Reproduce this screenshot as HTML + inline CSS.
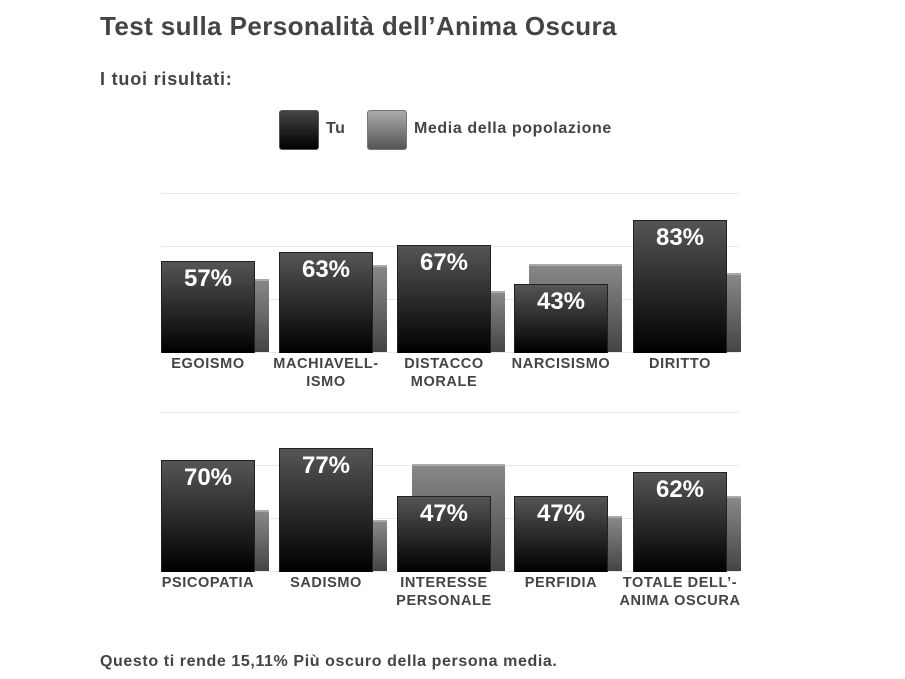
<!DOCTYPE html>
<html><head><meta charset="utf-8"><style>
body{margin:0;width:905px;height:679px;background:#fff;position:relative;overflow:hidden;font-family:"Liberation Sans",sans-serif;font-weight:bold;color:#444}
.a{position:absolute;white-space:nowrap}
.g{position:absolute;left:161px;width:578px;height:1px;background:#e8e8e8}
.tu{position:absolute;width:92px;border:1px solid #222;border-bottom:none;background:linear-gradient(#555,#000);box-sizing:content-box}
.tu span{display:block;text-align:center;color:#fff;font-size:24px;margin-top:3px}
.po{position:absolute;width:93px;border-top:2px solid #aaa;background:linear-gradient(#888,#444)}
.lb{position:absolute;width:130px;text-align:center;font-size:14.5px;letter-spacing:0.6px;line-height:18px;color:#444}
</style></head><body>
<div class="a" style="left:100px;top:11px;font-size:26px;letter-spacing:0.4px">Test sulla Personalità dell’Anima Oscura</div>
<div class="a" style="left:100px;top:69px;font-size:18px;letter-spacing:0.8px">I tuoi risultati:</div>
<div class="a" style="left:279px;top:110px;width:38px;height:38px;border:1px solid #555;border-radius:3px;background:linear-gradient(#444,#000)"></div>
<div class="a" style="left:326px;top:120px;font-size:16px;letter-spacing:0.5px">Tu</div>
<div class="a" style="left:367px;top:110px;width:38px;height:38px;border:1px solid #777;border-radius:3px;background:linear-gradient(#aaa,#555)"></div>
<div class="a" style="left:414px;top:120px;font-size:16px;letter-spacing:0.6px">Media della popolazione</div>

<div class="g" style="top:193px"></div><div class="g" style="top:246px"></div><div class="g" style="top:299px"></div><div class="g" style="top:352px"></div>
<div class="g" style="top:412px"></div><div class="g" style="top:465px"></div><div class="g" style="top:518px"></div><div class="g" style="top:571px"></div>

<!-- row 1 -->
<div class="po" style="left:176px;top:279px;height:71px"></div>
<div class="tu" style="left:161px;top:261px;height:91px"><span>57%</span></div>
<div class="po" style="left:294px;top:265px;height:85px"></div>
<div class="tu" style="left:279px;top:252px;height:100px"><span>63%</span></div>
<div class="po" style="left:412px;top:291px;height:59px"></div>
<div class="tu" style="left:397px;top:245px;height:107px"><span>67%</span></div>
<div class="po" style="left:529px;top:264px;height:86px"></div>
<div class="tu" style="left:514px;top:284px;height:68px"><span>43%</span></div>
<div class="po" style="left:648px;top:273px;height:77px"></div>
<div class="tu" style="left:633px;top:220px;height:132px"><span>83%</span></div>
<div class="lb" style="left:143px;top:355px">EGOISMO</div>
<div class="lb" style="left:261px;top:355px">MACHIAVELL-<br>ISMO</div>
<div class="lb" style="left:379px;top:355px">DISTACCO<br>MORALE</div>
<div class="lb" style="left:496px;top:355px">NARCISISMO</div>
<div class="lb" style="left:615px;top:355px">DIRITTO</div>

<!-- row 2 -->
<div class="po" style="left:176px;top:510px;height:59px"></div>
<div class="tu" style="left:161px;top:460px;height:111px"><span>70%</span></div>
<div class="po" style="left:294px;top:520px;height:49px"></div>
<div class="tu" style="left:279px;top:448px;height:123px"><span>77%</span></div>
<div class="po" style="left:412px;top:464px;height:105px"></div>
<div class="tu" style="left:397px;top:496px;height:75px"><span>47%</span></div>
<div class="po" style="left:529px;top:516px;height:53px"></div>
<div class="tu" style="left:514px;top:496px;height:75px"><span>47%</span></div>
<div class="po" style="left:648px;top:496px;height:73px"></div>
<div class="tu" style="left:633px;top:472px;height:99px"><span>62%</span></div>
<div class="lb" style="left:143px;top:574px">PSICOPATIA</div>
<div class="lb" style="left:261px;top:574px">SADISMO</div>
<div class="lb" style="left:379px;top:574px">INTERESSE<br>PERSONALE</div>
<div class="lb" style="left:496px;top:574px">PERFIDIA</div>
<div class="lb" style="left:615px;top:574px">TOTALE DELL’-<br>ANIMA OSCURA</div>

<div class="a" style="left:100px;top:653px;font-size:16px;letter-spacing:0.6px">Questo ti rende 15,11% Più oscuro della persona media.</div>
</body></html>
